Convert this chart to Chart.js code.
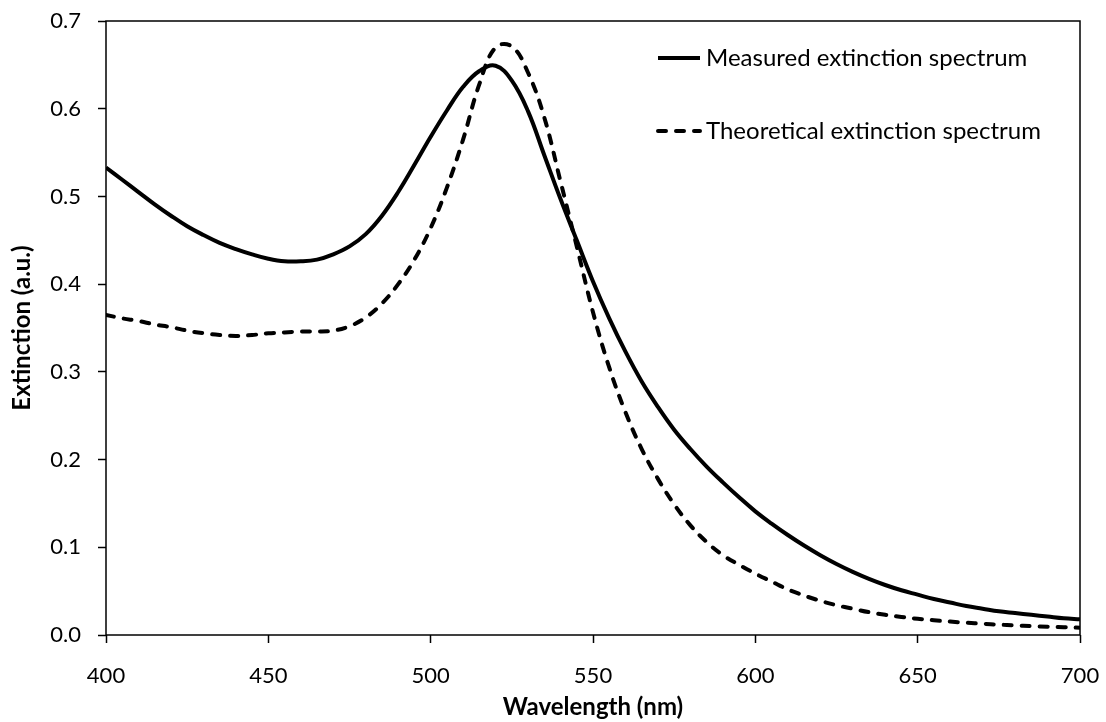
<!DOCTYPE html>
<html>
<head>
<meta charset="utf-8">
<script src="https://cdn.jsdelivr.net/npm/chart.js@4.4.1/dist/chart.umd.min.js"></script>
<style>
  html, body { margin: 0; padding: 0; background: #fff; }
  #chart { display: block; }
</style>
</head>
<body>
<canvas id="chart" width="1106" height="722"></canvas>
<script>
// values, every 5 nm
const wavelengths = [400, 405, 410, 415, 420, 425, 430, 435, 440, 445, 450, 455, 460, 465, 470, 475, 480, 485, 490, 495,
                     500, 505, 510, 515, 520, 525, 530, 535, 540, 545, 550, 555, 560, 565, 570, 575, 580, 585, 590, 595,
                     600, 605, 610, 615, 620, 625, 630, 635, 640, 645, 650, 655, 660, 665, 670, 675, 680, 685, 690, 695, 700];

const measuredExt = [0.533, 0.519, 0.505, 0.491, 0.478, 0.466, 0.456, 0.447, 0.440, 0.434, 0.429, 0.426, 0.426, 0.428, 0.434, 0.443, 0.457, 0.478, 0.505, 0.536,
                     0.568, 0.598, 0.625, 0.643, 0.649, 0.632, 0.597, 0.547, 0.497, 0.450, 0.403, 0.361, 0.323, 0.289, 0.260, 0.234, 0.212, 0.192, 0.174, 0.157,
                     0.141, 0.127, 0.114, 0.102, 0.091, 0.081, 0.072, 0.064, 0.057, 0.051, 0.046, 0.041, 0.037, 0.033, 0.030, 0.027, 0.025, 0.023, 0.021, 0.019, 0.018];

const theoryExt = [0.365, 0.361, 0.358, 0.354, 0.351, 0.347, 0.344, 0.342, 0.341, 0.342, 0.344, 0.345, 0.346, 0.346, 0.347, 0.352, 0.362, 0.378, 0.400, 0.428,
                   0.464, 0.510, 0.565, 0.628, 0.670, 0.671, 0.641, 0.590, 0.517, 0.443, 0.368, 0.305, 0.254, 0.212, 0.178, 0.149, 0.125, 0.106, 0.091, 0.080,
                   0.070, 0.061, 0.052, 0.045, 0.039, 0.034, 0.030, 0.026, 0.023, 0.0205, 0.0185, 0.0168, 0.0153, 0.014, 0.0128, 0.0118, 0.011, 0.0102, 0.0095, 0.0089, 0.0083];

const seriesLabels = ['Measured extinction spectrum', 'Theoretical extinction spectrum'];
const xTitle = 'Wavelength (nm)';
const yTitle = 'Extinction (a.u.)';

const FONT = 'Lato, "Open Sans", sans-serif';

function toPoints(xs, ys) {
    return xs.map((x, i) => ({ x: x, y: ys[i] }));
}

// box around the plot area
const framePlugin = {
    id: 'frame',
    afterDraw(chart) {
        const { ctx, chartArea: a } = chart;
        ctx.save();
        ctx.strokeStyle = '#000';
        ctx.lineWidth = 1.5;
        ctx.strokeRect(a.left, a.top, a.right - a.left, a.bottom - a.top);
        ctx.restore();
    }
};

// legend drawn inside the plot, top right, stacked
const insideLegend = {
    id: 'insideLegend',
    afterDraw(chart) {
        const ctx = chart.ctx;
        const rows = [58, 131];
        ctx.save();
        chart.data.datasets.forEach((ds, i) => {
            const y = rows[i];
            ctx.strokeStyle = ds.borderColor;
            ctx.lineWidth = ds.borderWidth;
            ctx.lineCap = ds.borderCapStyle || 'butt';
            ctx.setLineDash(ds.borderDash || []);
            ctx.beginPath();
            ctx.moveTo(658, y);
            ctx.lineTo(700, y);
            ctx.stroke();
            ctx.setLineDash([]);
            ctx.fillStyle = '#000';
            ctx.font = '24px ' + FONT;
            ctx.textBaseline = 'middle';
            ctx.textAlign = 'left';
            ctx.fillText(ds.label, 706, y);
        });
        ctx.restore();
    }
};

new Chart(document.querySelector('#chart').getContext('2d'), {
    type: 'line',
    data: {
        datasets: [
            {
                label: seriesLabels[0],
                data: toPoints(wavelengths, measuredExt),
                borderColor: '#000',
                borderWidth: 4,
                pointRadius: 0,
                tension: 0.4,
                fill: false
            },
            {
                label: seriesLabels[1],
                data: toPoints(wavelengths, theoryExt),
                borderColor: '#000',
                borderWidth: 4,
                borderDash: [8, 10],
                borderCapStyle: 'round',
                pointRadius: 0,
                tension: 0.4,
                fill: false
            }
        ]
    },
    options: {
        responsive: false,
        animation: false,
        devicePixelRatio: 1,
        layout: { padding: { top: 21, right: 26, bottom: 0, left: 0 } },
        plugins: {
            legend: { display: false },
            tooltip: { enabled: false }
        },
        scales: {
            x: {
                type: 'linear',
                min: 400,
                max: 700,
                ticks: {
                    stepSize: 50,
                    color: '#000',
                    padding: 20,
                    maxRotation: 0,
                    font: { family: FONT, size: 22 }
                },
                grid: {
                    drawOnChartArea: false,
                    drawTicks: true,
                    tickLength: 8,
                    tickColor: '#000',
                    tickWidth: 1.5
                },
                border: { display: false },
                title: {
                    display: true,
                    text: xTitle,
                    color: '#000',
                    font: { family: FONT, size: 24, weight: 'bold' },
                    padding: { top: 0, bottom: 0 }
                },
                afterFit(scale) {
                    scale.height = 722 - 635;
                    scale.paddingLeft = 0;
                    scale.paddingRight = 0;
                }
            },
            y: {
                min: 0,
                max: 0.7,
                ticks: {
                    stepSize: 0.1,
                    color: '#000',
                    padding: 17,
                    font: { family: FONT, size: 22 },
                    callback: v => v.toFixed(1)
                },
                grid: {
                    drawOnChartArea: false,
                    drawTicks: true,
                    tickLength: 8,
                    tickColor: '#000',
                    tickWidth: 1.5
                },
                border: { display: false },
                title: {
                    display: true,
                    text: yTitle,
                    color: '#000',
                    font: { family: FONT, size: 24, weight: 'bold' },
                    padding: { top: 8, bottom: 0 }
                },
                afterFit(scale) {
                    scale.width = 106;
                    scale.paddingTop = 0;
                    scale.paddingBottom = 0;
                }
            }
        }
    },
    plugins: [framePlugin, insideLegend]
});
</script>
</body>
</html>
